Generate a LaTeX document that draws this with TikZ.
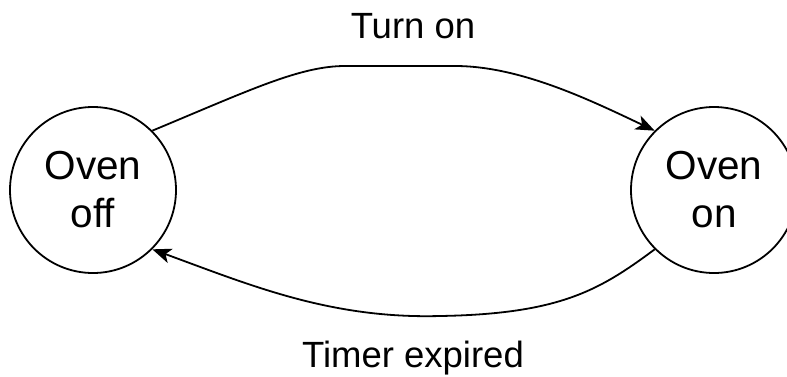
\documentclass[tikz,border=0pt]{standalone}
\usepackage{fontspec}
\setmainfont{Liberation Sans}
\usetikzlibrary{arrows.meta}
\newcommand{\ovFigMain}{\fontsize{40.5}{48}\selectfont}
\newcommand{\ovFigSub}{\fontsize{36.5}{43}\selectfont}
\tikzset{
  %% the two states of the oven: plain circles, same size
  ovstate/.style={
    circle, draw=black, line width=1.8pt, fill=white,
    minimum size=166pt, inner sep=0pt, align=center, font=\ovFigMain},
  ovflow/.style={-{Stealth[length=19pt,width=15pt,inset=5pt]}, draw=black,
    line width=1.8pt},
  ovlbl/.style={font=\ovFigSub, inner sep=0pt, anchor=base, text=black},
}

\begin{document}
\begin{tikzpicture}[x=1pt,y=-1pt]
\useasboundingbox (0,0) rectangle (787,376);

%% --- states -------------------------------------------------------
\node[ovstate] (off) at (93,190)  {Oven\\off};
\node[ovstate] (on)  at (714,190) {Oven\\on};

%% --- transitions --------------------------------------------------
\draw[ovflow] (off.45) .. controls (250,90) and (300,66) .. (345,66)
  -- (455,66) .. controls (520,66) and (590,100) .. (on.135);
\draw[ovflow] (on.225) .. controls (600,290) and (560,314) .. (440,316)
  .. controls (330,319) and (250,285) .. (off.-45);

%% --- labels -------------------------------------------------------
\node[ovlbl] (turnon) at (413,38)  {Turn on};
\node[ovlbl] (timer)  at (413,367) {Timer expired};

\end{tikzpicture}
\end{document}
